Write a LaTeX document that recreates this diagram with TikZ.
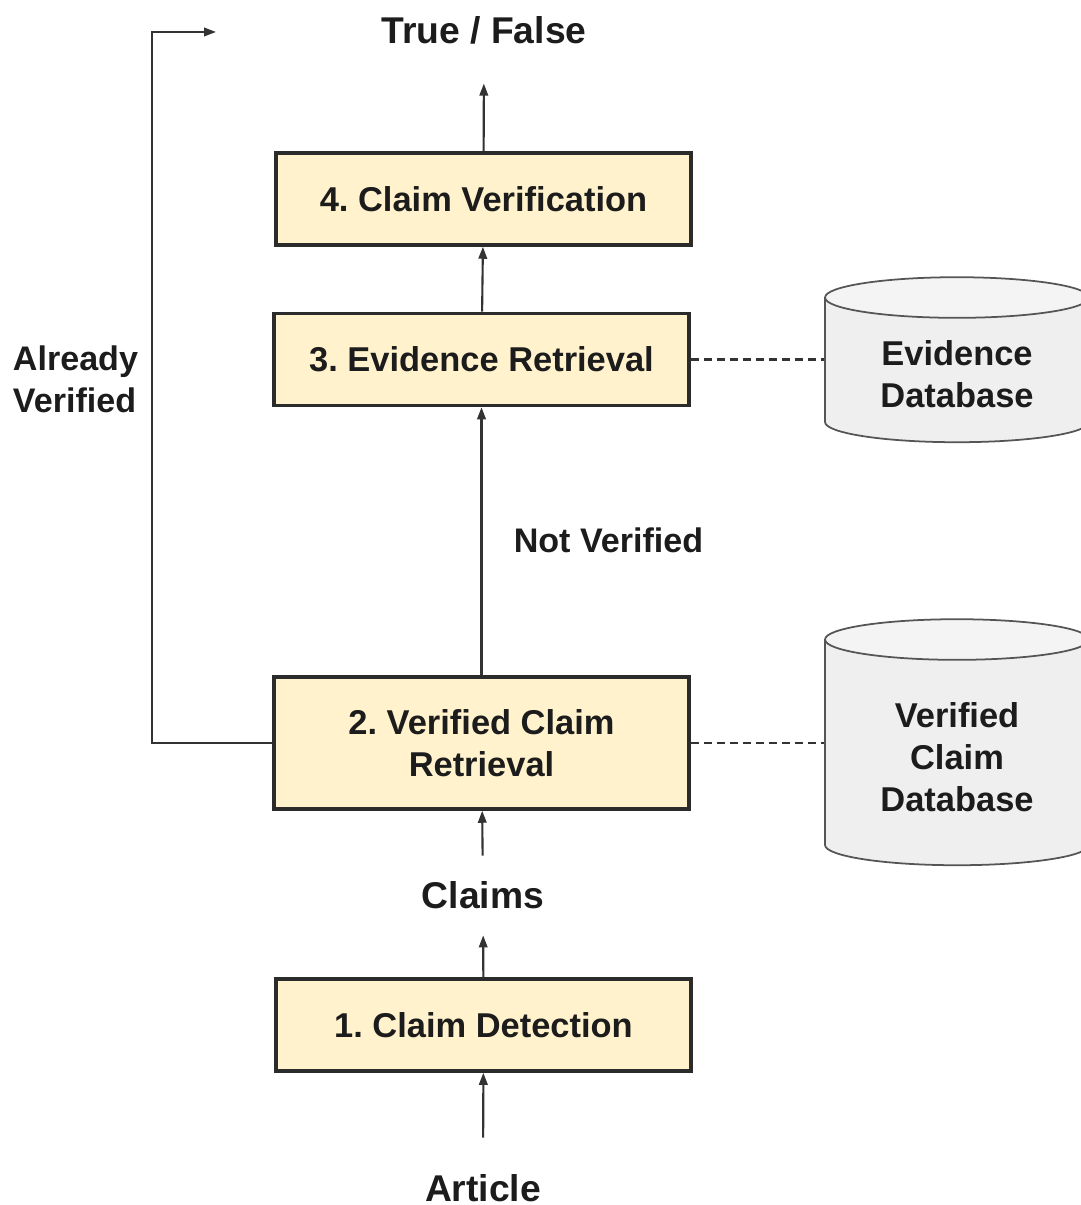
\documentclass[tikz,border=0pt]{standalone}
\usepackage{fontspec}
\setmainfont{Liberation Sans}
\usetikzlibrary{arrows.meta,shapes.geometric}
\frenchspacing

\definecolor{boxfill}{HTML}{FFF2CC}
\definecolor{boxline}{HTML}{2B2B2B}
\definecolor{dbfill}{HTML}{EFEFEF}
\definecolor{dbline}{HTML}{555555}
\definecolor{ink}{HTML}{1C1C1C}

\tikzset{
    stage/.style={draw=boxline, fill=boxfill, line width=1pt, minimum width=4.15cm,
        minimum height=0.92cm, align=center, text=ink,
        font=\fontsize{9.8}{12}\selectfont\bfseries},
    db/.style={cylinder, shape border rotate=90, aspect=0.23, draw=dbline, line width=0.5pt,
        cylinder uses custom fill, cylinder body fill=dbfill, cylinder end fill=dbfill!70!white,
        minimum width=2.64cm, align=center, text=ink,
        font=\fontsize{9.8}{12}\selectfont\bfseries},
    lbl/.style={inner sep=0pt, text=ink, font=\fontsize{10.6}{12}\selectfont\bfseries},
    side/.style={inner sep=0pt, align=left, text=ink, font=\fontsize{9.7}{12}\selectfont\bfseries},
    arr/.style={draw=ink!90, line width=0.6pt, -{Triangle[length=1.2mm, width=0.85mm]}},
    link/.style={draw=ink!90, line width=0.6pt, dash pattern=on 0.8mm off 0.5mm}
}

\begin{document}
\begin{tikzpicture}
    \useasboundingbox (0,0) rectangle (10.8,-12.05);

    % Pipeline stages
    \node[stage] (verify) at (4.835,-1.99) {4. Claim Verification};
    \node[stage] (evidence) at (4.815,-3.595) {3. Evidence Retrieval};
    \node[stage, minimum height=1.32cm] (lookup) at (4.815,-7.43) {2. Verified Claim\\Retrieval};
    \node[stage] (detect) at (4.835,-10.25) {1. Claim Detection};

    % Databases
    \node[db, minimum height=1.65cm] (evdb) at (9.57,-3.745) {Evidence\\Database};
    \node[db, minimum height=2.46cm] (vcdb) at (9.57,-7.57) {Verified\\Claim\\Database};

    % Inputs and outputs
    \node[lbl] (result) at (4.84,-0.30) {True / False};
    \node[lbl] (claims) at (4.83,-8.95) {Claims};
    \node[lbl] (article) at (4.83,-11.88) {Article};
    \node[side] at (6.085,-5.40) {Not Verified};
    \node[side] at (0.755,-3.79) {Already\\Verified};

    % Flow
    \draw[arr, shorten <=0.36cm] (article) -- (detect);
    \draw[arr, shorten >=0.26cm] (detect) -- (claims);
    \draw[arr, shorten <=0.25cm] (claims) -- (lookup);
    \draw[arr] (lookup) -- (evidence);
    \draw[arr] (evidence) -- (verify);
    \draw[arr, shorten >=0.39cm] (verify) -- (result);

    % Shortcut for claims already checked
    \coordinate (turn) at (1.52,-7.43);
    \coordinate (back) at (2.16,-0.32);
    \draw[arr] (lookup.west) -- (turn) |- (back);

    % Database links
    \draw[link] (evidence.east) -- (evidence.east -| evdb.west);
    \draw[link] (lookup.east) -- (lookup.east -| vcdb.west);
\end{tikzpicture}
\end{document}
